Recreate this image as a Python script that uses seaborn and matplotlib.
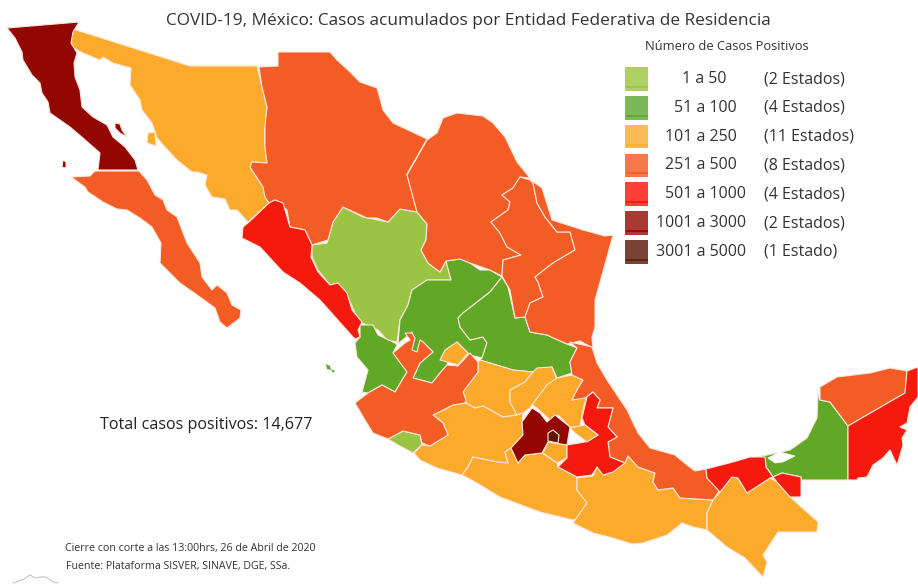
import matplotlib
matplotlib.use('Agg')
import matplotlib.pyplot as plt
import pandas as pd
import seaborn as sns

sns.set_theme(style='white')
plt.rcParams['font.family'] = ['Open Sans', 'DejaVu Sans']

# legend table
rangos = ['1 a 50', '51 a 100', '101 a 250', '251 a 500', '501 a 1000', '1001 a 3000', '3001 a 5000']
estados = ['(2 Estados)', '(4 Estados)', '(11 Estados)', '(8 Estados)', '(4 Estados)', '(2 Estados)', '(1 Estado)']
colores_mapa = ['#9BC444', '#61A827', '#FBAA2B', '#F45C26', '#F6190E', '#940600', '#5A1A05']
colores_caja = ['#AECF64', '#7DB856', '#FBBA55', '#F5784A', '#FF4038', '#A83A34', '#7A4234']
colores_banda = ['#9BC444', '#61A827', '#FBAA2B', '#F45C26', '#F6190E', '#940600', '#5A1A05']

# state outlines (pixel coordinates), grouped by case class
baja_california = [(7,28),(15,38),(22,52),(23,60),(32,75),(40,83),(42,93),(48,102),(50,113),(70,127),(83,138),(100,153),(98,170),(138,170),(135,160),(125,147),(113,137),(107,125),(93,117),(82,107),(80,90),(75,77),(74,63),(77,53),(71,43),(73,32),(79,22)]
isla_angel = [(115,123),(120,124),(122,130),(127,137),(120,133),(115,128)]
isla_cedros = [(63,160),(66,162),(66,168),(62,167)]
bcs = [(71,177),(90,176),(95,171),(139,171),(147,180),(155,195),(163,200),(167,210),(177,217),(182,230),(187,243),(200,263),(202,277),(212,290),(217,285),(227,293),(232,305),(241,310),(240,318),(227,328),(220,322),(215,308),(200,297),(180,283),(160,263),(161,243),(152,227),(140,218),(127,210),(117,209),(103,202),(88,192),(85,187)]
sonora = [(73,29),(190,66),(257,66),(262,87),(267,107),(265,127),(265,147),(267,163),(252,162),(250,167),(263,187),(265,197),(269,203),(248,222),(237,210),(230,210),(225,199),(212,197),(205,185),(207,175),(197,172),(192,172),(177,160),(165,147),(157,138),(152,123),(142,110),(140,100),(130,85),(131,68),(113,63),(103,57),(100,60),(83,53),(72,47),(71,37)]
isla_tiburon = [(148,133),(155,132),(156,146),(147,143)]
chihuahua = [(278,52),(330,52),(337,60),(350,72),(360,82),(377,88),(383,110),(393,123),(427,139),(407,174),(417,212),(400,209),(388,222),(377,218),(367,218),(343,207),(333,222),(328,240),(312,245),(305,230),(290,227),(287,210),(275,200),(269,203),(265,197),(263,187),(250,167),(252,162),(267,163),(265,147),(265,127),(267,107),(262,87),(259,67),(278,66)]
sinaloa = [(269,203),(275,200),(283,203),(290,227),(305,230),(312,245),(311,257),(318,272),(330,285),(338,283),(347,293),(352,310),(362,322),(358,330),(360,337),(355,339),(353,337),(320,300),(300,283),(283,272),(260,247),(242,238),(243,227),(249,222)]
durango = [(312,245),(327,243),(333,222),(343,207),(363,217),(388,222),(400,209),(417,212),(427,224),(426,240),(421,250),(428,263),(440,272),(446,261),(451,280),(427,280),(412,290),(408,305),(400,320),(397,342),(387,340),(378,330),(362,323),(355,313),(348,297),(338,283),(330,285),(318,270),(312,257)]
coahuila = [(427,140),(437,133),(443,118),(457,113),(483,116),(493,123),(505,137),(517,162),(530,178),(520,177),(513,188),(502,195),(510,202),(508,210),(491,222),(500,233),(507,247),(521,255),(503,260),(502,276),(490,270),(470,263),(460,259),(446,261),(440,272),(428,263),(421,250),(426,240),(427,224),(417,212),(407,175)]
nuevo_leon = [(530,180),(520,177),(513,188),(502,195),(510,202),(508,210),(491,222),(500,233),(507,247),(521,255),(503,260),(502,276),(510,290),(515,318),(525,317),(530,303),(543,297),(538,282),(535,277),(553,263),(575,250),(570,232),(557,232),(545,217),(537,203),(533,183)]
tamaulipas = [(531,180),(542,188),(552,220),(583,230),(605,236),(613,235),(607,257),(595,300),(595,327),(592,337),(593,348),(580,341),(567,344),(547,335),(530,332),(525,317),(530,303),(543,297),(538,282),(535,277),(553,263),(575,250),(570,232),(557,232),(545,217),(537,203),(533,183)]
zacatecas = [(446,261),(460,259),(470,263),(480,270),(490,270),(502,277),(490,292),(463,313),(458,318),(460,327),(470,340),(483,337),(487,343),(482,358),(470,355),(457,342),(447,365),(440,373),(432,383),(413,378),(420,363),(433,352),(423,342),(419,353),(411,353),(412,332),(398,344),(400,320),(408,305),(412,290),(427,280),(451,280)]
nayarit = [(360,325),(373,325),(378,335),(395,343),(397,345),(393,353),(403,363),(407,372),(395,392),(382,385),(368,393),(362,392),(368,370),(357,357),(355,343),(360,337)]
jalisco = [(368,393),(382,385),(395,392),(407,372),(393,353),(405,343),(410,340),(405,333),(412,333),(415,338),(412,350),(417,352),(420,340),(423,342),(433,352),(420,363),(413,378),(432,383),(440,373),(447,365),(458,366),(470,353),(478,362),(478,372),(463,392),(466,400),(465,403),(453,405),(433,415),(443,423),(448,435),(430,446),(422,443),(420,435),(403,431),(388,439),(373,433),(365,420),(355,403)]
colima = [(388,439),(403,431),(420,435),(422,445),(413,453),(398,445)]
aguascalientes = [(457,342),(468,353),(458,365),(440,360),(445,350)]
guanajuato = [(480,360),(513,370),(533,372),(525,382),(510,390),(510,402),(517,415),(503,417),(483,406),(475,408),(466,403),(463,392),(478,372),(478,362)]
queretaro = [(510,390),(525,382),(533,372),(537,368),(552,367),(557,380),(547,385),(540,395),(532,405),(530,408),(523,413),(517,415),(510,402)]
slp = [(502,277),(508,287),(515,318),(525,317),(530,332),(547,335),(567,344),(577,348),(570,362),(572,373),(557,378),(552,367),(537,370),(533,372),(513,370),(480,360),(482,358),(487,343),(483,337),(470,340),(460,327),(458,318),(463,313),(490,292)]
hidalgo = [(557,378),(572,375),(583,380),(577,390),(572,400),(587,395),(583,410),(580,427),(570,427),(558,415),(550,420),(537,408),(532,405),(547,385)]
tlaxcala = [(570,428),(585,425),(598,435),(587,442),(575,433)]
edomex = [(532,408),(540,413),(547,422),(555,415),(570,427),(567,445),(548,442),(542,453),(525,455),(518,463),(511,448),(523,435),(522,422)]
cdmx = [(548,433),(553,430),(559,435),(558,443),(548,441)]
morelos = [(548,442),(567,445),(567,458),(557,463),(543,453)]
puebla = [(593,392),(600,400),(597,408),(613,408),(608,427),(617,437),(608,442),(610,457),(625,463),(613,472),(603,475),(597,467),(592,475),(577,477),(558,467),(567,458),(567,445),(585,442),(598,435),(585,425),(582,418),(587,397)]
veracruz = [(570,342),(592,347),(597,363),(607,380),(627,410),(638,433),(650,448),(675,455),(687,465),(695,471),(706,469),(707,478),(720,490),(713,500),(680,498),(673,488),(658,490),(653,482),(655,473),(638,467),(628,456),(625,463),(610,457),(608,442),(617,437),(608,427),(613,408),(597,408),(600,400),(593,392),(585,398),(572,400),(577,390),(583,380),(572,375),(570,362),(577,348)]
oaxaca = [(577,478),(593,476),(598,465),(605,475),(625,463),(628,456),(638,467),(655,473),(653,482),(658,490),(673,488),(680,498),(713,500),(707,513),(707,530),(693,527),(682,523),(667,535),(643,543),(632,544),(613,538),(593,533),(573,523),(587,503),(577,490)]
chiapas = [(713,500),(720,492),(732,477),(738,478),(747,493),(770,478),(777,482),(790,497),(808,513),(818,522),(817,532),(778,532),(763,555),(767,562),(763,577),(745,558),(727,547),(713,535),(707,530),(707,513)]
tabasco = [(706,469),(733,462),(750,457),(765,457),(766,467),(773,477),(770,478),(747,493),(738,478),(732,477),(720,492),(707,478)]
tabasco_este = [(773,477),(782,473),(801,477),(801,497),(790,497),(777,482)]
campeche = [(757,457),(772,454),(790,450),(807,438),(817,418),(818,393),(820,400),(830,402),(848,426),(848,480),(801,480),(801,477),(782,473),(773,477),(766,467),(765,458)]
laguna = [(768,458),(780,452),(795,456),(783,462),(775,463)]
yucatan = [(820,387),(837,377),(870,373),(890,368),(907,371),(905,393),(848,426),(830,402),(820,400)]
quintana_roo = [(907,371),(918,367),(918,397),(910,407),(907,423),(900,427),(907,430),(902,438),(903,445),(897,465),(890,450),(883,458),(873,465),(867,477),(858,478),(857,480),(848,480),(848,426),(905,393)]
michoacan = [(422,445),(430,446),(448,435),(443,423),(433,415),(453,405),(466,403),(475,408),(483,406),(503,417),(517,415),(523,413),(522,422),(523,435),(511,448),(505,452),(508,463),(497,462),(473,457),(468,467),(462,475),(437,468),(420,460),(414,453)]
guerrero = [(462,475),(468,467),(473,457),(497,462),(508,463),(505,452),(511,448),(518,463),(525,455),(542,453),(557,463),(558,467),(577,477),(577,490),(587,502),(583,517),(573,520),(540,512),(500,497),(477,483)]
islas_colima_a = [(326,364),(330,366),(331,370),(327,369)]
islas_colima_b = [(331,369),(335,371),(333,373)]

clases = {
    0: [durango, colima],
    1: [zacatecas, nayarit, slp, campeche],
    2: [sonora, isla_tiburon, aguascalientes, guanajuato, queretaro, hidalgo, morelos, michoacan, guerrero, oaxaca, chiapas],
    3: [bcs, chihuahua, coahuila, nuevo_leon, tamaulipas, jalisco, veracruz, yucatan],
    4: [sinaloa, puebla, tabasco, tabasco_este, quintana_roo],
    5: [baja_california, isla_angel, isla_cedros, edomex],
    6: [cdmx],
}
encima = [(tlaxcala, 2)]

fig = plt.figure(figsize=(9.18, 5.84), dpi=100)
ax = fig.add_axes([0, 0, 1, 1])

for clase, poligonos in clases.items():
    for poli in poligonos:
        xs, ys = zip(*poli)
        ax.fill(xs, ys, facecolor=colores_mapa[clase], edgecolor='#FBE6DC', linewidth=0.8, joinstyle='round')
for poli, clase in encima:
    xs, ys = zip(*poli)
    ax.fill(xs, ys, facecolor=colores_mapa[clase], edgecolor='#FBE6DC', linewidth=0.8)
for poli in [islas_colima_a, islas_colima_b]:
    xs, ys = zip(*poli)
    ax.fill(xs, ys, facecolor=colores_mapa[1], edgecolor='none')
xs, ys = zip(*laguna)
ax.fill(xs, ys, facecolor='white', edgecolor='white', linewidth=0.5)

# legend swatches
leyenda = pd.DataFrame({'rango': rangos, 'x': 636.5, 'y': [79 + 28.8 * i for i in range(len(rangos))]})
sns.scatterplot(data=leyenda, x='x', y='y', hue='rango', palette=colores_caja, marker='s', s=285,
                linewidth=0, legend=False, ax=ax)
fin_rango = [727, 737, 737, 737, 746, 746, 746]
for i, fila in leyenda.iterrows():
    ax.plot([625.5, 647.5], [fila['y'] + 8, fila['y'] + 8], color=colores_banda[i], lw=1.2, solid_capstyle='butt')
    ax.text(fin_rango[i], fila['y'], rangos[i], ha='right', va='center', fontsize=11.5, color='#333333')
    ax.text(764, fila['y'], estados[i], ha='left', va='center', fontsize=11.5, color='#333333')

ax.text(468, 21, 'COVID-19, México: Casos acumulados por Entidad Federativa de Residencia',
        ha='center', va='center', fontsize=12.4, color='#333333')
ax.text(727, 47, 'Número de Casos Positivos', ha='center', va='center', fontsize=9.3, color='#333333')
ax.text(100, 425, 'Total casos positivos: 14,677', ha='left', va='center', fontsize=11.65, color='#222222')
ax.text(65, 548, 'Cierre con corte a las 13:00hrs, 26 de Abril de 2020', ha='left', va='center', fontsize=7.7, color='#333333')
ax.text(66, 566, 'Fuente: Plataforma SISVER, SINAVE, DGE, SSa.', ha='left', va='center', fontsize=7.7, color='#333333')

# faint logo at the bottom edge
ax.plot([13, 22, 30, 35, 40, 46, 53, 58], [583, 580, 575, 578, 577, 577, 582, 583], color='#BBBBBB', lw=0.7)

ax.set_xlim(0, 918)
ax.set_ylim(584, 0)
ax.axis('off')
fig.savefig('out.png', dpi=100)
